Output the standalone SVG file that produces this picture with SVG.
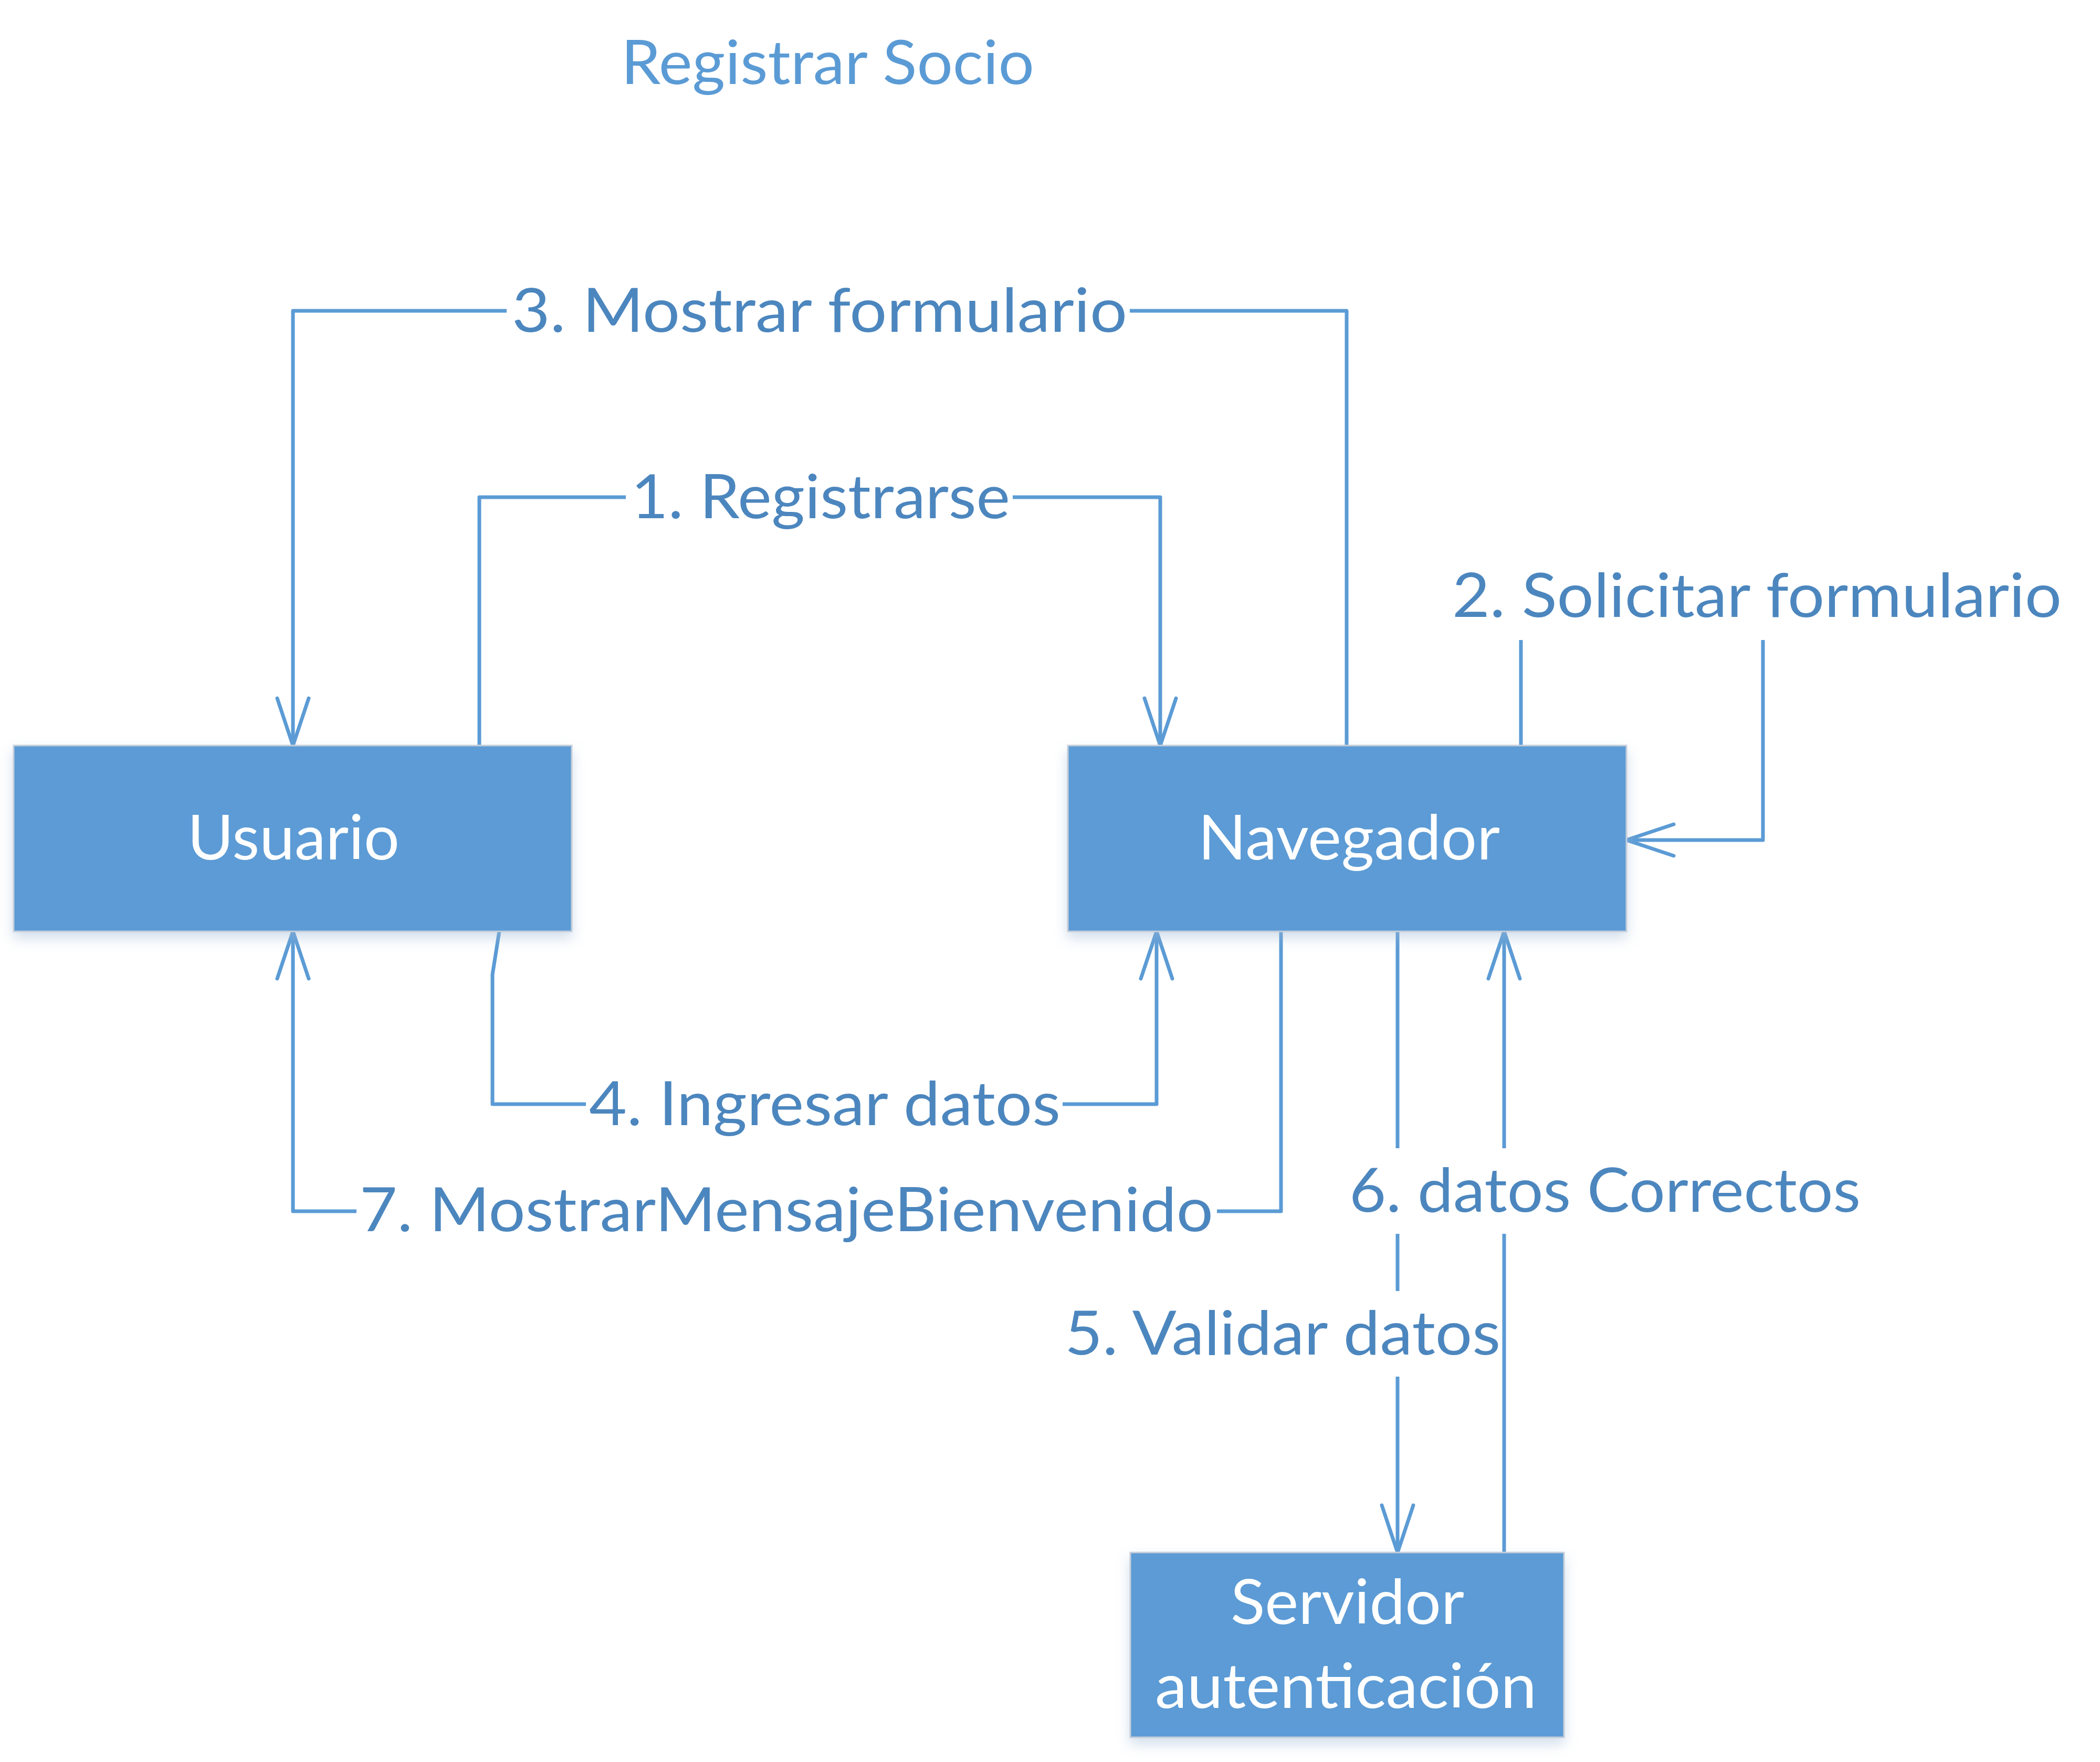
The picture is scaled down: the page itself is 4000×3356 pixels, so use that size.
<svg xmlns="http://www.w3.org/2000/svg" width="4000" height="3356" viewBox="0 0 4000 3356">
<defs>
<style>
.box{fill:#5B9BD5;stroke:#C5CEDA;stroke-width:3;filter:url(#sh)}
.bt{font-family:Lato,"Open Sans","Liberation Sans",sans-serif;font-size:118px;fill:#FFFFFF}
.con{fill:none;stroke:#5B9BD5;stroke-width:7;stroke-linecap:round;stroke-linejoin:round}
.lbg{fill:#FFFFFF}
.lt{font-family:Lato,"Open Sans","Liberation Sans",sans-serif;font-size:116px;fill:#4C86BE}
.title{font-family:Lato,"Open Sans","Liberation Sans",sans-serif;font-size:116px;fill:#5B9BD5}
</style>
<filter id="sh" x="-10%" y="-10%" width="120%" height="140%">
<feDropShadow dx="0" dy="12" stdDeviation="12" flood-color="#9DB8D6" flood-opacity="0.45"/>
</filter>
<marker id="arr" markerUnits="userSpaceOnUse" viewBox="-110 -50 120 100" refX="0" refY="0" markerWidth="120" markerHeight="100" orient="auto" overflow="visible">
<path d="M-90,-30 L0,0 L-90,30" fill="none" stroke="#5B9BD5" stroke-width="7" stroke-linecap="round" stroke-linejoin="round"/>
</marker>
</defs>
<rect width="4000" height="3356" fill="#FFFFFF"/>
<text class="title" x="1183" y="160" textLength="787" lengthAdjust="spacingAndGlyphs">Registrar Socio</text>
<g id="connectors">
<path id="c1" class="con" d="M913,1420 L913,947 L2210,947 L2210,1420" marker-end="url(#arr)"/>
<path id="c2" class="con" d="M2897,1420 L2897,1137 L3358,1137 L3358,1600 L3098,1600" marker-end="url(#arr)"/>
<path id="c3" class="con" d="M2565,1420 L2565,592 L558,592 L558,1420" marker-end="url(#arr)"/>
<path id="c4" class="con" d="M951,1774 L938,1856 L938,2103 L2203,2103 L2203,1774" marker-end="url(#arr)"/>
<path id="c5" class="con" d="M2662,1774 L2662,2957" marker-end="url(#arr)"/>
<path id="c6" class="con" d="M2865,2957 L2865,1774" marker-end="url(#arr)"/>
<path id="c7" class="con" d="M2440,1774 L2440,2307 L558,2307 L558,1774" marker-end="url(#arr)"/>
<g id="labels">
<rect class="lbg" x="1192" y="880" width="737" height="140"/>
<text class="lt" x="1202" y="987" textLength="722" lengthAdjust="spacingAndGlyphs">1. Registrarse</text>
<rect class="lbg" x="2755" y="1054" width="1180" height="165"/>
<text class="lt" x="2766" y="1175" textLength="1161" lengthAdjust="spacingAndGlyphs">2. Solicitar formulario</text>
<rect class="lbg" x="965" y="525" width="1187" height="140"/>
<text class="lt" x="975" y="632" textLength="1172" lengthAdjust="spacingAndGlyphs">3. Mostrar formulario</text>
<rect class="lbg" x="1116" y="2036" width="908" height="140"/>
<text class="lt" x="1122" y="2143" textLength="898" lengthAdjust="spacingAndGlyphs">4. Ingresar datos</text>
<rect class="lbg" x="2020" y="2459" width="838" height="163"/>
<text class="lt" x="2028" y="2580" textLength="830" lengthAdjust="spacingAndGlyphs">5. Validar datos</text>
<rect class="lbg" x="2560" y="2187" width="990" height="163"/>
<text class="lt" x="2570" y="2308" textLength="974" lengthAdjust="spacingAndGlyphs">6. datos Correctos</text>
<rect class="lbg" x="679" y="2240" width="1639" height="140"/>
<text class="lt" x="685" y="2345" textLength="1626" lengthAdjust="spacingAndGlyphs">7. MostrarMensajeBienvenido</text>
</g>
</g>
<g id="usuario">
<rect class="box" x="26" y="1420" width="1063" height="354"/>
<text class="bt" x="357" y="1637" textLength="404" lengthAdjust="spacingAndGlyphs">Usuario</text>
</g>
<g id="navegador">
<rect class="box" x="2034" y="1420" width="1064" height="354"/>
<text class="bt" x="2282" y="1637" textLength="575" lengthAdjust="spacingAndGlyphs">Navegador</text>
</g>
<g id="servidor">
<rect class="box" x="2153" y="2957" width="826" height="352"/>
<text class="bt" x="2344" y="3093" textLength="445" lengthAdjust="spacingAndGlyphs">Servidor</text>
<text class="bt" x="2200" y="3253" textLength="727" lengthAdjust="spacingAndGlyphs">autenticación</text>
</g>
</svg>
